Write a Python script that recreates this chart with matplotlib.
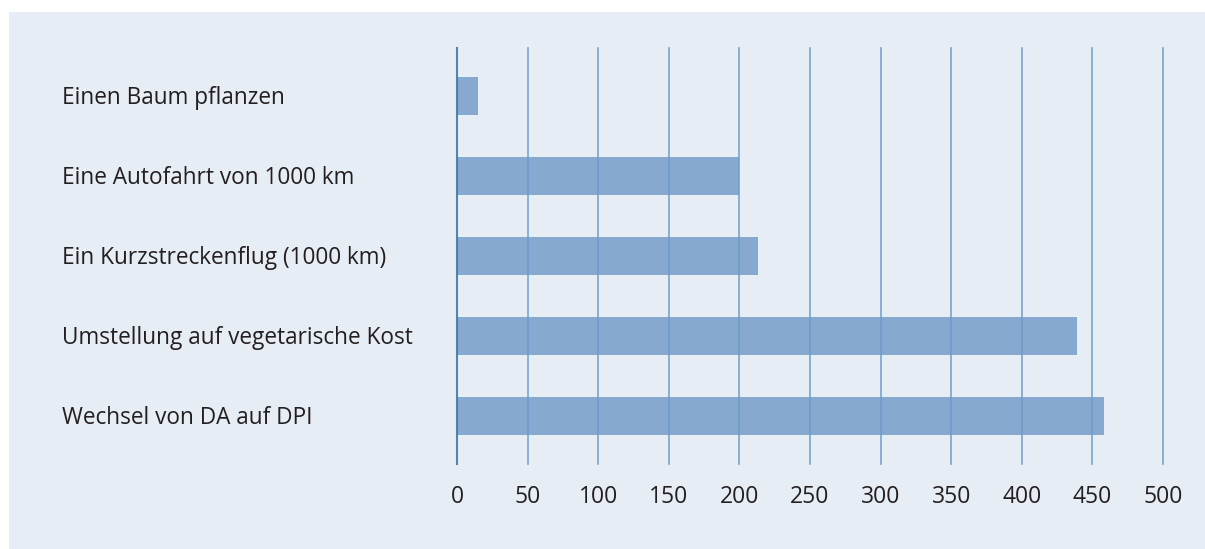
import matplotlib.pyplot as plt
import matplotlib.transforms as mtransforms
from matplotlib.patches import Rectangle

labels = ["Einen Baum pflanzen", "Eine Autofahrt von 1000 km",
          "Ein Kurzstreckenflug (1000 km)", "Umstellung auf vegetarische Kost",
          "Wechsel von DA auf DPI"]
values = [15, 200, 213, 439, 458]
xticks = [0, 50, 100, 150, 200, 250, 300, 350, 400, 450, 500]

plt.rcParams['font.family'] = ['Open Sans', 'DejaVu Sans']

W, H = 1205, 549
fig = plt.figure(figsize=(W / 100, H / 100), dpi=100, facecolor='white')
fig.add_artist(Rectangle((9 / W, 0), 1 - 9 / W, 1 - 12 / H,
                         transform=fig.transFigure, facecolor='#e7edf5',
                         edgecolor='none', zorder=-10))

# axes: x 0 -> 457px, 500 -> 1163px; y range 48px .. 464px
ax = fig.add_axes([457 / W, 1 - 464 / H, (1163 - 457) / W, (464 - 48) / H])
ax.set_facecolor('none')
ypos = list(range(len(labels)))
ax.barh(ypos, values, height=0.475, color='#87a8cf', zorder=2)
for x in xticks:
    ax.axvline(x, color='#3f78b0' if x == 0 else '#6c9cca',
               lw=1.5 if x == 0 else 1.2, alpha=0.9, zorder=3, clip_on=False)
ax.set_xlim(0, 500)
ax.set_ylim(len(labels) - 0.4, -0.6)
ax.set_xticks(xticks)
ax.set_xticklabels([str(x) for x in xticks], fontsize=16.5, color='#231f20')
ax.tick_params(axis='x', length=0, pad=15)
ax.set_yticks([])
for s in ax.spines.values():
    s.set_visible(False)

tr = mtransforms.blended_transform_factory(fig.transFigure, ax.transData)
for y, lab in zip(ypos, labels):
    ax.text(62 / W, y + 0.03, lab, transform=tr, ha='left', va='center',
            fontsize=16.3, color='#231f20')

fig.savefig('out.png', dpi=100, facecolor='white')
